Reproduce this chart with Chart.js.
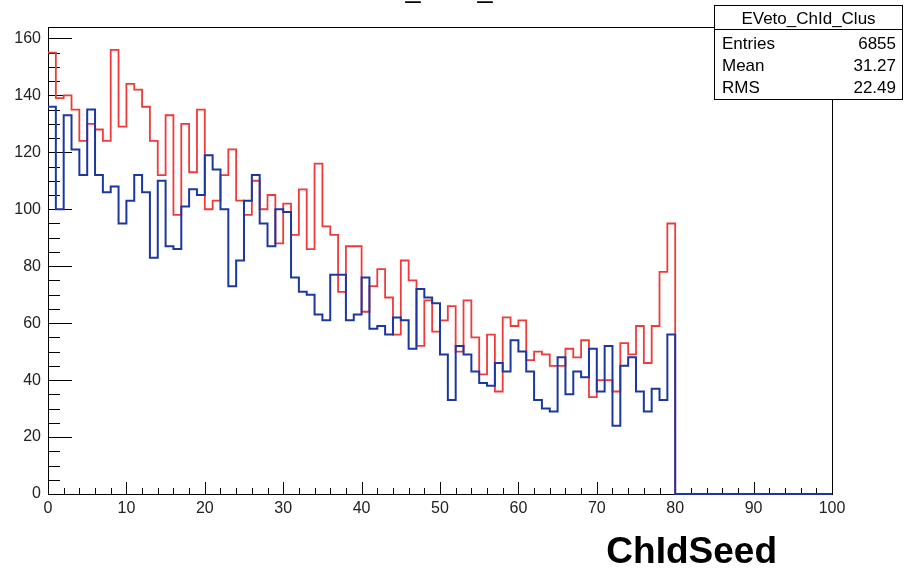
<!doctype html>
<html lang="en">

<head>
    <meta charset="utf-8">
    <title>EVeto_ChId_Clus</title>
    <style>
        body { margin: 0; background: #fff; }
        #myChart { display: block; }
    </style>
</head>

<body>
    <canvas id="myChart" width="904" height="570"></canvas>

    <script src="https://cdn.jsdelivr.net/npm/chart.js"></script>
    <script>
        // setup - one entry per bin (ChIdSeed 0..99, width 1)
        const binCount = 100;
        const binLow = Array.from({ length: binCount }, (_, i) => i);

        const redCounts = [
            155, 139, 140, 135, 124, 130, 128, 124, 156, 129,
            144, 142, 136, 124, 112, 133, 98, 130, 113, 135,
            100, 103, 112, 121, 103, 98, 110, 100, 105, 88,
            102, 91, 107, 86, 116, 94, 91, 71, 87, 87,
            64, 73, 79, 69, 56, 82, 75, 52, 68, 57,
            61, 66, 50, 68, 55, 42, 56, 36, 62, 59,
            61, 47, 50, 49, 45, 45, 51, 48, 54, 34,
            40, 40, 36, 53, 49, 59, 46, 59, 78, 95,
            0, 0, 0, 0, 0, 0, 0, 0, 0, 0,
            0, 0, 0, 0, 0, 0, 0, 0, 0, 0
        ];

        const blueCounts = [
            136, 100, 133, 121, 112, 135, 112, 106, 108, 95,
            103, 112, 106, 83, 110, 87, 86, 101, 107, 105,
            119, 114, 100, 73, 82, 103, 112, 95, 87, 100,
            99, 76, 71, 70, 63, 61, 77, 77, 61, 63,
            76, 58, 59, 56, 62, 61, 51, 72, 69, 67,
            49, 33, 52, 49, 43, 39, 38, 46, 43, 54,
            50, 43, 33, 30, 29, 48, 35, 43, 41, 51,
            36, 52, 24, 45, 48, 36, 29, 37, 33, 56,
            0, 0, 0, 0, 0, 0, 0, 0, 0, 0,
            0, 0, 0, 0, 0, 0, 0, 0, 0, 0
        ];

        const xTickLabels = ['0', '10', '20', '30', '40', '50', '60', '70', '80', '90', '100'];
        const yTickLabels = ['0', '20', '40', '60', '80', '100', '120', '140', '160'];

        const histTitle = 'EVeto_ChId_Clus';
        const xTitle = 'ChIdSeed';
        const statNames = ['Entries', 'Mean', 'RMS'];
        const statValues = ['6855', '31.27', '22.49'];

        // histogram outline: a point at each bin low edge, closed at the upper edge
        function histPoints(counts) {
            const pts = binLow.map((x, i) => ({ x: x, y: counts[i] }));
            pts.push({ x: binLow[binCount - 1] + 1, y: counts[binCount - 1] });
            return pts;
        }

        const FONT = '"Liberation Sans", Arial, sans-serif';

        // ROOT style frame with inward ticks, drawn under the histograms
        const rootFrame = {
            id: 'rootFrame',
            beforeDatasetsDraw(chart) {
                const { ctx, chartArea: a, scales: { x, y } } = chart;
                ctx.save();
                ctx.strokeStyle = '#000';
                ctx.lineWidth = 1;
                ctx.beginPath();
                for (let v = 0; v <= 100; v += 2) {
                    const px = Math.round(x.getPixelForValue(v)) + 0.5;
                    const len = v % 10 === 0 ? 12 : 6;
                    ctx.moveTo(px, a.bottom);
                    ctx.lineTo(px, a.bottom - len);
                }
                for (let v = 0; v <= 160; v += 5) {
                    const py = Math.round(y.getPixelForValue(v)) + 0.5;
                    const len = v % 20 === 0 ? 24 : 12;
                    ctx.moveTo(a.left, py);
                    ctx.lineTo(a.left + len, py);
                }
                ctx.stroke();
                ctx.strokeRect(Math.round(a.left) + 0.5, Math.round(a.top) + 0.5,
                    Math.round(a.right - a.left), Math.round(a.bottom - a.top));
                ctx.restore();
            }
        };

        // titles and the stats box, drawn on top
        const rootText = {
            id: 'rootText',
            afterDraw(chart) {
                const { ctx, chartArea: a } = chart;
                ctx.save();
                ctx.fillStyle = '#000';

                // histogram title sits mostly above the picture
                ctx.font = '27px ' + FONT;
                ctx.textAlign = 'center';
                ctx.textBaseline = 'alphabetic';
                ctx.fillText(histTitle, (a.left + a.right) / 2, -3);

                // axis title
                ctx.font = 'bold 37px ' + FONT;
                ctx.textAlign = 'right';
                ctx.fillText(xTitle, 777, 563);

                // stats box
                const bx = 714.5, by = 5.5, bw = 188, bh = 94;
                ctx.fillStyle = '#fff';
                ctx.fillRect(bx, by, bw, bh);
                ctx.strokeStyle = '#000';
                ctx.lineWidth = 1;
                ctx.strokeRect(bx, by, bw, bh);
                ctx.beginPath();
                ctx.moveTo(bx, 29.5);
                ctx.lineTo(bx + bw, 29.5);
                ctx.stroke();

                ctx.fillStyle = '#000';
                ctx.font = '17px ' + FONT;
                ctx.textAlign = 'center';
                ctx.fillText(histTitle, bx + bw / 2, 24);
                const rows = [49, 71, 93];
                statNames.forEach((n, i) => {
                    ctx.textAlign = 'left';
                    ctx.fillText(n, 722, rows[i]);
                    ctx.textAlign = 'right';
                    ctx.fillText(statValues[i], 896, rows[i]);
                });
                ctx.restore();
            }
        };

        const data = {
            datasets: [{
                label: 'red',
                data: histPoints(redCounts),
                borderColor: 'rgb(240, 58, 58)',
                borderWidth: 1.8,
                stepped: true,
                pointRadius: 0,
                fill: false,
                clip: false,
                order: 2
            }, {
                label: 'blue',
                data: histPoints(blueCounts),
                borderColor: 'rgb(28, 56, 160)',
                borderWidth: 2,
                stepped: true,
                pointRadius: 0,
                fill: false,
                clip: false,
                order: 1
            }]
        };

        // config
        const config = {
            type: 'line',
            data,
            plugins: [rootFrame, rootText],
            options: {
                responsive: false,
                animation: false,
                layout: { padding: { left: 0, top: 27, right: 72, bottom: 0 } },
                plugins: {
                    legend: { display: false },
                    tooltip: { enabled: false }
                },
                scales: {
                    x: {
                        type: 'linear',
                        min: 0,
                        max: 100,
                        afterFit: (s) => { s.height = 76; },
                        afterBuildTicks: (s) => { s.ticks = xTickLabels.map(t => ({ value: Number(t) })); },
                        grid: { display: false, drawTicks: false },
                        border: { display: false },
                        ticks: {
                            padding: 5,
                            maxRotation: 0,
                            autoSkip: false,
                            color: '#222',
                            font: { family: FONT, size: 16 },
                            callback: (v) => String(v)
                        }
                    },
                    y: {
                        type: 'linear',
                        min: 0,
                        max: 164,
                        afterFit: (s) => { s.width = 48; },
                        afterBuildTicks: (s) => { s.ticks = yTickLabels.map(t => ({ value: Number(t) })); },
                        grid: { display: false, drawTicks: false },
                        border: { display: false },
                        ticks: {
                            padding: 7,
                            autoSkip: false,
                            color: '#222',
                            font: { family: FONT, size: 16 },
                            callback: (v) => String(v)
                        }
                    }
                }
            }
        };

        // render init block
        const myChart = new Chart(document.getElementById('myChart'), config);
    </script>
</body>

</html>
